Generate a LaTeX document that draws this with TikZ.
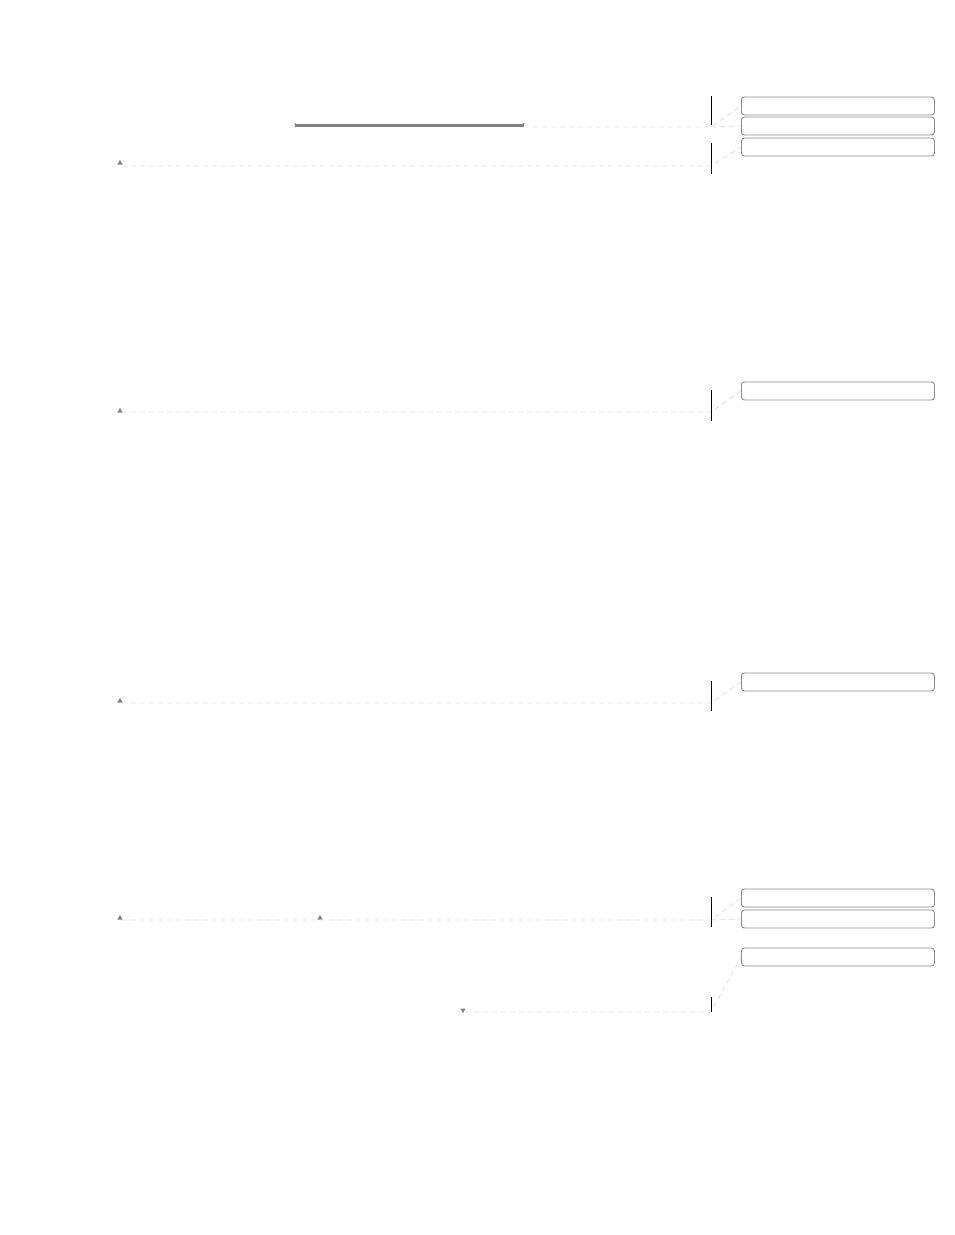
\documentclass[tikz,border=0pt]{standalone}
\usepackage{tikz}
\usetikzlibrary{shapes.geometric}
\usetikzlibrary{positioning}
\tikzset{note/.style = {draw = gray!90, rounded corners = 3, minimum width = 193, minimum height = 18, inner sep = 0, anchor = west, line width = 0.9}}
\tikzset{mark up/.style = {fill = gray, regular polygon, regular polygon sides = 3, inner sep = 0, minimum size = 6}}
\tikzset{mark down/.style = {mark up, shape border rotate = 180}}
\tikzset{leader/.style = {draw = gray!25, dashed, dash pattern = on 5 off 4, line width = 0.8}}
\tikzset{bar/.style = {line width = 1}}
\definecolor{sgray}{rgb}{0.5, 0.5, 0.5}

\begin{document}
\begin{tikzpicture}[x = 1pt, y = -1pt]
      \useasboundingbox (0, 0) rectangle (954, 1235);

      \node [note] (n1) at (741, 106) {};
      \node [note] (n2) at (741, 126) {};
      \node [note] (n3) at (741, 147) {};
      \node [note] (n4) at (741, 391) {};
      \node [note] (n5) at (741, 682) {};
      \node [note] (n6) at (741, 898) {};
      \node [note] (n7) at (741, 919) {};
      \node [note] (n8) at (741, 957) {};

      \draw [line width = 3, sgray] (295, 125) -- (524, 125);
      \draw [line width = 1, sgray] (295, 123) -- (296, 127);
      \draw [line width = 1, sgray] (524, 123) -- (522, 127);
      \coordinate (s1) at (524, 127);

      \node [mark up] (m2) at (120, 163) {};
      \node [mark up] (m3) at (120, 411) {};
      \node [mark up] (m4) at (120, 701) {};
      \node [mark up] (m5) at (120, 918) {};
      \node [mark up] (m6) at (320, 918) {};
      \node [mark down] (m7) at (463, 1010) {};

      \coordinate (b1) at (711, 127);
      \coordinate (b2) at (711, 166);
      \coordinate (b3) at (711, 412);
      \coordinate (b4) at (711, 703);
      \coordinate (b5) at (711, 920);
      \coordinate (b6) at (711, 1012);

      \draw [leader] (s1) -- (b1) -- (n1.west);
      \draw [leader] (b1) -- (n2.west);
      \draw [leader] (m2.east |- b2) -- (b2) -- (n3.west);
      \draw [leader] (m3.east |- b3) -- (b3) -- (n4.west);
      \draw [leader] (m4.east |- b4) -- (b4) -- (n5.west);
      \draw [leader] (m5.east |- b5) -- (b5) -- (n6.west);
      \draw [leader] (b5) -- (n7.west);
      \draw [leader] (m7.east |- b6) -- (b6) -- (n8.west);

      \draw [bar] (711, 96) -- (711, 125);
      \draw [bar] (711, 143) -- (711, 174);
      \draw [bar] (711, 390) -- (711, 421);
      \draw [bar] (711, 681) -- (711, 711);
      \draw [bar] (711, 897) -- (711, 927);
      \draw [bar] (711, 997) -- (711, 1012);
    \end{tikzpicture}
\end{document}
